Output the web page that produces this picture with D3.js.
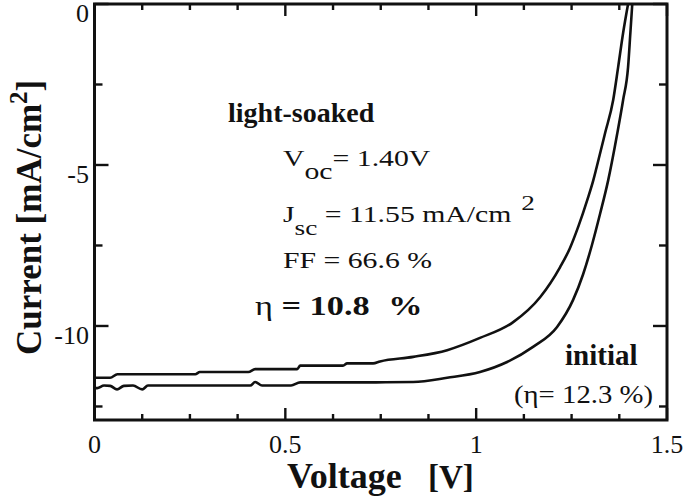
<!DOCTYPE html>
<html><head><meta charset="utf-8">
<script src="https://cdn.jsdelivr.net/npm/d3@7/dist/d3.min.js"></script>
<style>html,body{margin:0;padding:0;background:#fff;} svg{display:block;} text{font-family:"Liberation Serif","Times New Roman",serif;fill:#111;}</style>
</head><body><svg id="chart" width="685" height="496"></svg>
<script>
// ---- data ----
const voltageLightSoaked = [0, 0.041, 0.06, 0.264, 0.276, 0.403, 0.421, 0.531, 0.539, 0.651, 0.662, 0.73, 0.748, 0.835, 0.924, 1.010, 1.097, 1.168, 1.220, 1.245, 1.268, 1.291, 1.307, 1.315, 1.338, 1.359, 1.372, 1.385, 1.398];
const currentLightSoaked = [-11.61, -11.61, -11.50, -11.50, -11.43, -11.43, -11.34, -11.34, -11.23, -11.23, -11.16, -11.16, -11.10, -10.96, -10.75, -10.37, -9.88, -9.10, -8.17, -7.6, -6.9, -6.09, -5.47, -5.1, -4.0, -2.98, -1.96, -0.9, 0];
const voltageInitial = [0, 0.007, 0.025, 0.041, 0.059, 0.077, 0.101, 0.125, 0.140, 0.408, 0.421, 0.439, 0.515, 0.539, 0.738, 0.835, 0.924, 1.010, 1.081, 1.149, 1.212, 1.254, 1.280, 1.303, 1.325, 1.346, 1.370, 1.385, 1.398, 1.404, 1.409];
const currentInitial = [-11.93, -11.93, -11.85, -11.86, -11.97, -11.86, -11.85, -11.97, -11.85, -11.85, -11.74, -11.85, -11.85, -11.75, -11.75, -11.74, -11.61, -11.43, -11.12, -10.65, -10.03, -9.19, -8.4, -7.5, -6.5, -5.47, -4.0, -2.98, -1.96, -0.9, 0];
const xTickValues = [0, 0.5, 1, 1.5];
const xTickLabels = ["0", "0.5", "1", "1.5"];
const yTickValues = [0, -5, -10];
const yTickLabels = ["0", "-5", "-10"];
const xDomain = [0, 1.5];
const yDomain = [0, -12.92];

const svg = d3.select("#chart");
svg.append("rect").attr("width", 685).attr("height", 496).attr("fill", "#fff");

const L = 94.5, R = 667, T = 4, B = 420;
const x = d3.scaleLinear().domain(xDomain).range([L, R]);
const y = d3.scaleLinear().domain(yDomain).range([T, B]);

// curves
const line = d3.line().x(d => x(d[0])).y(d => y(d[1])).curve(d3.curveMonotoneX);
const lsData = voltageLightSoaked.map((v, i) => [v, currentLightSoaked[i]]);
const inData = voltageInitial.map((v, i) => [v, currentInitial[i]]);
[lsData, inData].forEach(d => {
  svg.append("path").attr("d", line(d)).attr("fill", "none")
    .attr("stroke", "#111").attr("stroke-width", 2.6).attr("stroke-linejoin", "round");
});

// frame
svg.append("rect").attr("x", L).attr("y", T).attr("width", R - L).attr("height", B - T)
  .attr("fill", "none").attr("stroke", "#111").attr("stroke-width", 3);

// ticks (mirrored, inward)
const g = svg.append("g").attr("stroke", "#111").attr("stroke-width", 2.4);
d3.range(0, 1.5001, 0.125).forEach(v => {
  const major = Math.abs(v / 0.5 - Math.round(v / 0.5)) < 1e-6;
  const len = major ? 12 : 6;
  g.append("line").attr("x1", x(v)).attr("x2", x(v)).attr("y1", B).attr("y2", B - len);
  g.append("line").attr("x1", x(v)).attr("x2", x(v)).attr("y1", T).attr("y2", T + len);
});
d3.range(0, -12.9, -2.5).forEach(v => {
  const major = Math.abs(v / 5 - Math.round(v / 5)) < 1e-6;
  const len = major ? 14 : 8;
  g.append("line").attr("x1", L).attr("x2", L + len).attr("y1", y(v)).attr("y2", y(v));
  g.append("line").attr("x1", R).attr("x2", R - len).attr("y1", y(v)).attr("y2", y(v));
});

// tick labels
xTickValues.forEach((v, i) => {
  svg.append("text").attr("x", x(v)).attr("y", 453).attr("text-anchor", "middle")
    .attr("font-size", 26).text(xTickLabels[i]);
});
yTickValues.forEach((v, i) => {
  svg.append("text").attr("x", 89).attr("y", y(v) + 18).attr("text-anchor", "end")
    .attr("font-size", 26).text(yTickLabels[i]);
});

// axis titles
const xt = svg.append("text").attr("x", 287).attr("y", 488).attr("font-size", 36).attr("font-weight", "bold");
xt.append("tspan").text("Voltage");
xt.append("tspan").attr("x", 428).attr("font-size", 33).text("[V]");

const yt = svg.append("text").attr("transform", "translate(41,355) rotate(-90)")
  .attr("font-size", 35).attr("font-weight", "bold");
yt.append("tspan").text("Current [mA/cm");
yt.append("tspan").attr("font-size", 25).attr("dy", -14).text("2");
yt.append("tspan").attr("dy", 14).text("]");

// annotations
svg.append("text").attr("x", 228).attr("y", 122).attr("font-size", 28).attr("font-weight", "bold").text("light-soaked");

const sx = 1.24;
const t1 = svg.append("text").attr("transform", `translate(283,166) scale(${sx},1)`).attr("font-size", 24);
t1.append("tspan").text("V");
t1.append("tspan").attr("dy", 13).attr("font-size", 24).text("oc");
t1.append("tspan").attr("dy", -13).text("= 1.40V");

const t2 = svg.append("text").attr("transform", `translate(283,222) scale(${sx},1)`).attr("font-size", 24);
t2.append("tspan").text("J");
t2.append("tspan").attr("dy", 13).attr("font-size", 22).text("sc");
t2.append("tspan").attr("dy", -13).text(" = 11.55 mA/cm");
t2.append("tspan").attr("dy", -12).attr("dx", 8).attr("font-size", 22).text("2");

svg.append("text").attr("transform", `translate(283,268) scale(${sx},1)`).attr("font-size", 24).text("FF = 66.6 %");

const t4 = svg.append("text").attr("transform", `translate(255,315) scale(1.27,1)`).attr("font-size", 27).attr("font-weight", "bold");
t4.append("tspan").attr("font-weight", "normal").text("η");
t4.append("tspan").text(" = 10.8 ");
t4.append("tspan").attr("dx", 8).text("%");

svg.append("text").attr("x", 565).attr("y", 365).attr("font-size", 29).attr("font-weight", "bold").text("initial");
svg.append("text").attr("transform", "translate(514,403) scale(1.15,1)").attr("font-size", 25).text("(η= 12.3 %)");
</script></body></html>
